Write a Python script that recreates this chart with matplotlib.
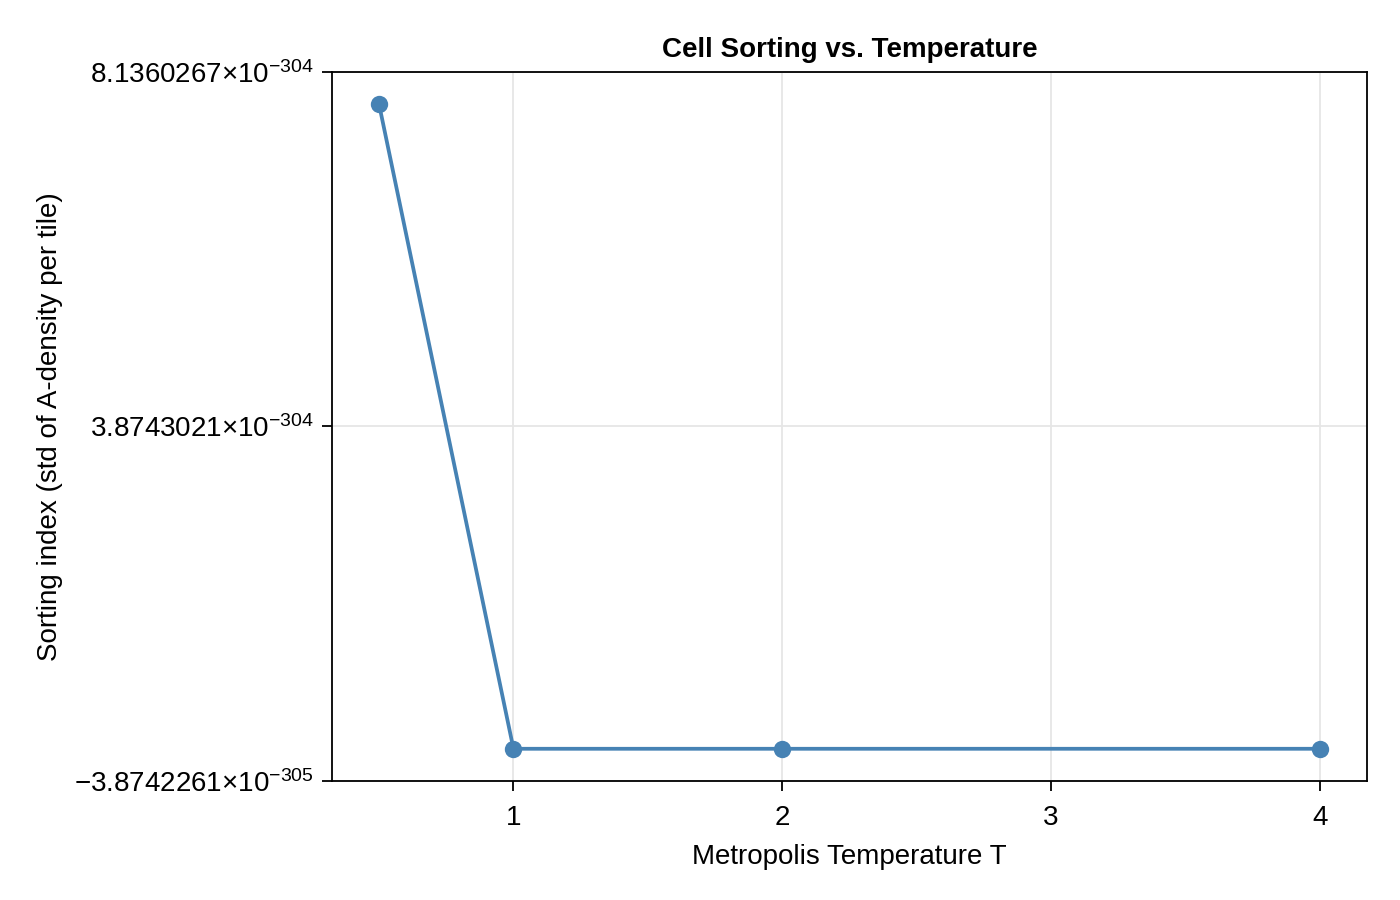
import matplotlib
matplotlib.use("Agg")
import matplotlib.pyplot as plt
from matplotlib.ticker import FixedLocator, FuncFormatter

# ---- data ----
temperatures = [0.5, 1.0, 2.0, 4.0]
sorting_index = [7.7485972e-304, 6.9e-310, 6.9e-310, 6.9e-310]
x_ticks = [1, 2, 3, 4]
y_ticks = [-3.8742261e-305, 3.8743021e-304, 8.1360267e-304]

title = "Cell Sorting vs. Temperature"
xlabel = "Metropolis Temperature T"
ylabel = "Sorting index (std of A-density per tile)"

# values are ~1e-304; plot in units of SCALE to keep the transforms numerically sane
SCALE = 1e-304
y_plot = [v / SCALE for v in sorting_index]
y_ticks_plot = [v / SCALE for v in y_ticks]

plt.rcParams['font.family'] = ['Liberation Sans', 'DejaVu Sans']
plt.rcParams['mathtext.fontset'] = 'custom'
plt.rcParams['mathtext.rm'] = 'Liberation Sans'
plt.rcParams['mathtext.it'] = 'Liberation Sans:italic'
plt.rcParams['mathtext.bf'] = 'Liberation Sans:bold'

fig = plt.figure(figsize=(14, 9), dpi=100)
ax = fig.add_axes([332/1400, 1 - 781/900, (1367-332)/1400, (781-72)/900])

color = '#4682B4'
ax.plot(temperatures, y_plot, color=color, lw=2.7, marker='o',
        markersize=12.5, markeredgewidth=0, zorder=3)

xr = max(temperatures) - min(temperatures)
ax.set_xlim(min(temperatures) - 0.05*xr, max(temperatures) + 0.05*xr)
ax.set_ylim(y_ticks_plot[0], y_ticks_plot[-1])

ax.xaxis.set_major_locator(FixedLocator(x_ticks))
ax.yaxis.set_major_locator(FixedLocator(y_ticks_plot))

def yfmt(v, pos):
    real = v * SCALE
    s = "%.7e" % real
    mant, exp = s.split("e")
    mant = mant.replace("-", "\u2212")
    e = int(exp)
    es = ("\u2212" + str(abs(e))) if e < 0 else str(e)
    return r"%s$\times$10$^{%s}$" % (mant, es)

ax.yaxis.set_major_formatter(FuncFormatter(yfmt))
ax.xaxis.set_major_formatter(FuncFormatter(lambda v, p: "%d" % v))

ax.grid(True, color='#e6e6e6', lw=1.3, zorder=0)
ax.set_axisbelow(True)
for sp in ax.spines.values():
    sp.set_linewidth(1.3)
    sp.set_color('black')

ax.tick_params(axis='both', direction='out', length=7, width=1.3, labelsize=20)
ax.tick_params(axis='y', pad=6)
ax.tick_params(axis='x', pad=10)

ax.set_title(title, fontsize=20, fontweight='bold', pad=11)
ax.set_xlabel(xlabel, fontsize=20, labelpad=10)
ax.set_ylabel(ylabel, fontsize=20, labelpad=8)

fig.savefig("out.png", dpi=100)
